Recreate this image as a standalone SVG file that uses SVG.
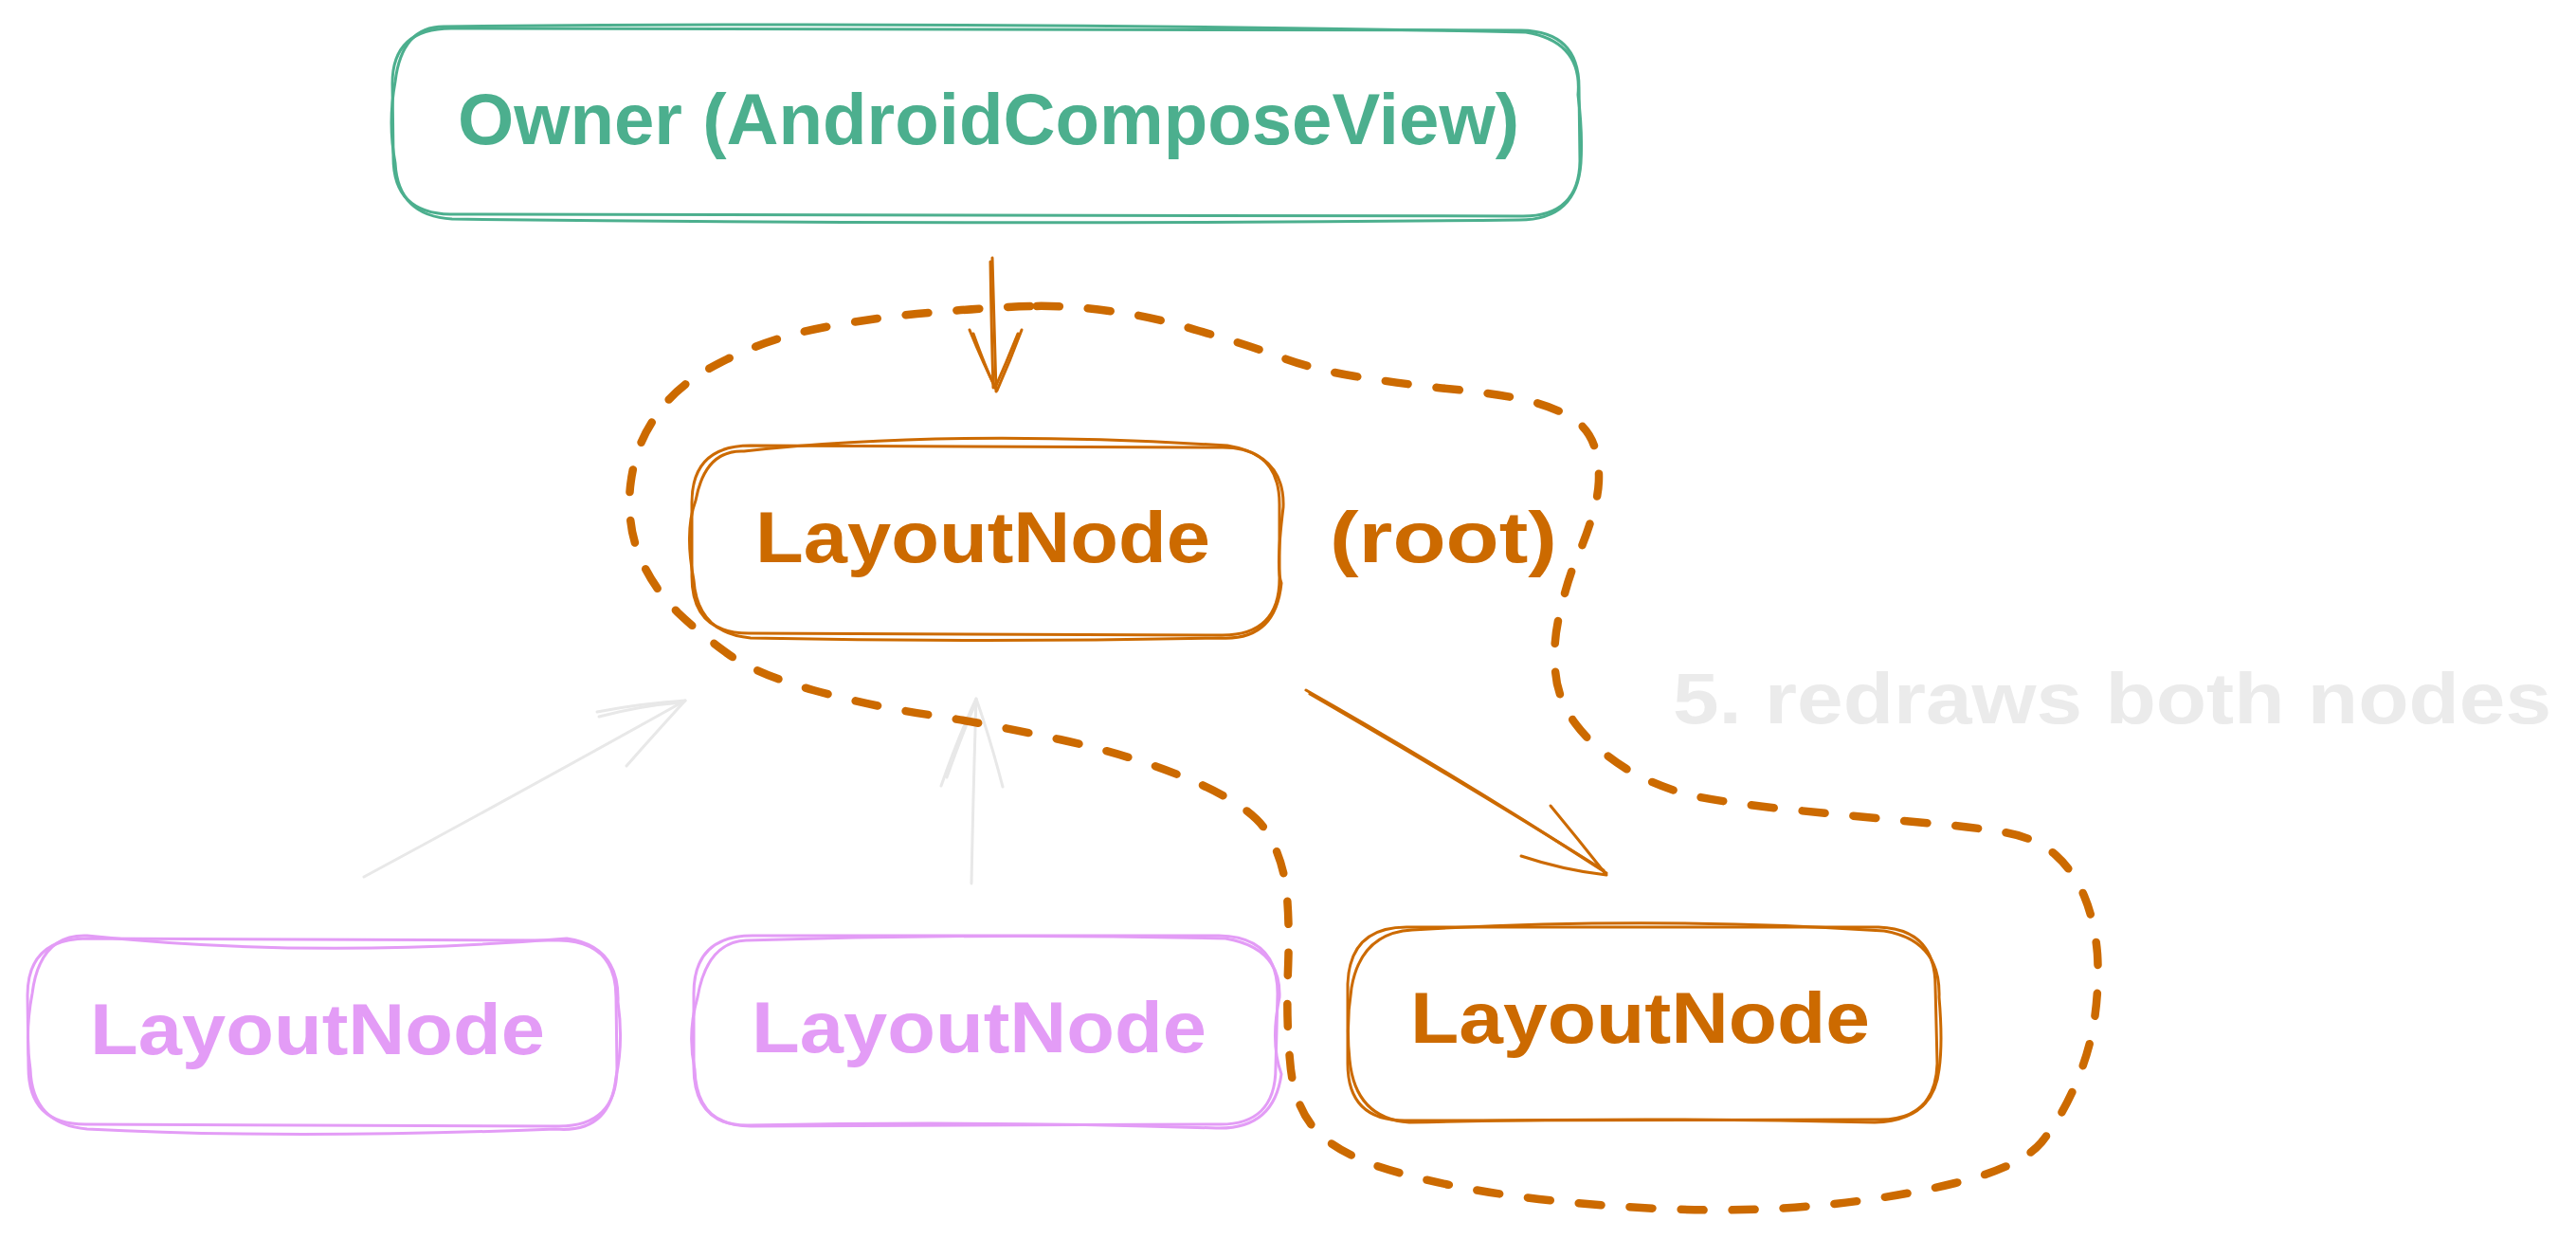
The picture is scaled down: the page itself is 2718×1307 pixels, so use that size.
<svg xmlns="http://www.w3.org/2000/svg" width="2718" height="1307" viewBox="0 0 2718 1307">
<style>
.g{fill:none;stroke:#4caf8e;stroke-width:3;stroke-linecap:round;stroke-linejoin:round}
.o{fill:none;stroke:#cc6a00;stroke-width:3;stroke-linecap:round;stroke-linejoin:round}
.p{fill:none;stroke:#e39cf6;stroke-width:3;stroke-linecap:round;stroke-linejoin:round}
.gr{fill:none;stroke:#e8e8e8;stroke-width:3;stroke-linecap:round;stroke-linejoin:round}
.dash{fill:none;stroke:#cc6a00;stroke-width:8.5;stroke-linecap:round;stroke-dasharray:24 30}
text{font-family:"Liberation Sans",Arial,sans-serif;font-size:76px;font-weight:bold}
.tg{fill:#4caf8e}
.to{fill:#cc6a00}
.tp{fill:#e39cf6}
.tgr{fill:#ebebeb}
</style>
<rect width="2718" height="1307" fill="#ffffff"/>
<g id="connectors">
<g id="owner-root">
<path class="o" d="M1047,272 Q1049,340 1051,413"/>
<path class="o" d="M1045,276 Q1046,345 1048,409"/>
<path class="o" d="M1023,348 Q1038,385 1052,412 Q1066,380 1078,348"/>
<path class="o" d="M1027,352 Q1040,388 1050,409 Q1062,382 1074,352"/>
</g>
<g id="root-right">
<path class="o" d="M1378,728 Q1540,820 1695,921"/>
<path class="o" d="M1382,732 Q1545,826 1692,918"/>
<path class="o" d="M1605,903 Q1650,918 1695,923 Q1665,885 1636,850"/>
</g>
<g id="left-root">
<path class="gr" d="M384,925 Q560,830 723,739"/>
<path class="gr" d="M630,751 Q676,742 723,739 Q690,775 661,808"/>
<path class="gr" d="M632,756 Q678,744 720,741"/>
</g>
<g id="mid-root">
<path class="gr" d="M1025,932 Q1027,830 1030,737"/>
<path class="gr" d="M993,829 Q1010,780 1030,737 Q1045,780 1058,830"/>
<path class="gr" d="M999,820 Q1015,775 1028,745"/>
</g>
</g>
<g id="region">
<path class="dash" d="M1087,323 Q1047,324 992,329 Q936,333 876,344 Q815,355 767,379 Q719,402 698,431 Q676,459 669,490 Q662,520 665,546 Q667,572 680,598 Q693,624 715,646 Q737,667 767,689 Q797,711 858,728 Q919,745 980,754 Q1040,763 1118,780 Q1196,797 1257,823 Q1317,849 1335,875 Q1352,901 1357,936 Q1361,971 1359,1023 Q1357,1075 1361,1118 Q1364,1161 1384,1187 Q1404,1213 1456,1231 Q1508,1248 1586,1260 Q1664,1271 1751,1275 Q1837,1279 1915,1272 Q1993,1265 2063,1248 Q2132,1231 2154,1205 Q2175,1179 2190,1144 Q2205,1109 2210,1075 Q2215,1040 2213,1006 Q2210,971 2199,945 Q2188,919 2169,902 Q2149,884 2115,878 Q2080,872 2020,867 Q1959,861 1898,855 Q1837,849 1794,841 Q1751,832 1716,811 Q1681,789 1662,763 Q1643,737 1641,707 Q1638,676 1647,642 Q1655,607 1667,581 Q1678,555 1684,529 Q1690,503 1684,477 Q1678,451 1654,438 Q1629,425 1595,419 Q1560,413 1517,409 Q1473,404 1430,397 Q1387,390 1352,377 Q1317,364 1265,349 Q1213,333 1170,328 Q1127,322 1087,323 Z"/>
</g>
<g id="owner">
<path class="g" d="M476,30 L1605,32 Q1666,33 1666,92 L1667,170 Q1666,229 1605,228 L475,226 Q415,225 415,166 L414,88 Q414,30 476,30 Z"/>
<path class="g" d="M468,28 Q1040,22 1610,34 Q1670,44 1665,100 Q1670,140 1668,172 Q1664,232 1603,232 Q1040,238 477,231 Q420,228 417,172 Q409,130 417,86 Q424,28 468,28 Z"/>
<text class="tg" x="483" y="152" textLength="1120" lengthAdjust="spacingAndGlyphs">Owner (AndroidComposeView)</text>
</g>
<g id="root">
<path class="o" d="M792,470 L1290,472 Q1350,472 1350,532 L1350,610 Q1350,670 1290,670 L790,668 Q730,668 730,608 L730,530 Q730,470 792,470 Z"/>
<path class="o" d="M785,476 Q1000,452 1295,470 Q1356,480 1354,535 Q1346,600 1352,615 Q1346,676 1288,673 Q1040,678 792,673 Q736,668 732,612 Q722,560 734,528 Q744,474 785,476 Z"/>
<text class="to" x="797" y="593" textLength="480" lengthAdjust="spacingAndGlyphs">LayoutNode</text>
</g>
<g id="root-label">
<text class="to" x="1403" y="593" textLength="240" lengthAdjust="spacingAndGlyphs">(root)</text>
</g>
<g id="child-left">
<path class="p" d="M92,990 L590,992 Q650,993 650,1052 L651,1128 Q650,1188 590,1188 L90,1186 Q30,1186 30,1126 L29,1050 Q29,990 92,990 Z"/>
<path class="p" d="M92,987 Q330,1012 598,990 Q654,998 652,1057 Q658,1100 650,1136 Q644,1196 586,1191 Q300,1202 92,1191 Q34,1186 32,1128 Q26,1090 34,1048 Q42,985 92,987 Z"/>
<text class="tp" x="95" y="1112" textLength="480" lengthAdjust="spacingAndGlyphs">LayoutNode</text>
</g>
<g id="child-middle">
<path class="p" d="M794,987 L1286,987 Q1348,988 1348,1048 L1346,1126 Q1346,1188 1284,1186 L792,1188 Q732,1188 732,1126 L732,1048 Q732,987 794,987 Z"/>
<path class="p" d="M787,992 Q1040,984 1293,990 Q1352,1000 1350,1052 Q1340,1100 1352,1133 Q1344,1192 1283,1190 Q1040,1182 790,1187 Q735,1188 733,1128 Q725,1090 736,1052 Q746,994 787,992 Z"/>
<text class="tp" x="793" y="1110" textLength="480" lengthAdjust="spacingAndGlyphs">LayoutNode</text>
</g>
<g id="child-right">
<path class="o" d="M1484,978 L1982,978 Q2042,980 2042,1040 L2044,1122 Q2042,1182 1982,1181 L1482,1182 Q1422,1182 1422,1122 L1422,1038 Q1424,978 1484,978 Z"/>
<path class="o" d="M1490,981 Q1740,966 1988,982 Q2048,992 2046,1052 Q2050,1100 2046,1128 Q2040,1182 1978,1184 Q1740,1178 1487,1184 Q1430,1180 1424,1118 Q1420,1080 1426,1042 Q1436,984 1490,981 Z"/>
<text class="to" x="1488" y="1100" textLength="485" lengthAdjust="spacingAndGlyphs">LayoutNode</text>
</g>
<g id="note">
<text class="tgr" x="1765" y="763" textLength="927" lengthAdjust="spacingAndGlyphs">5. redraws both nodes</text>
</g>
</svg>
